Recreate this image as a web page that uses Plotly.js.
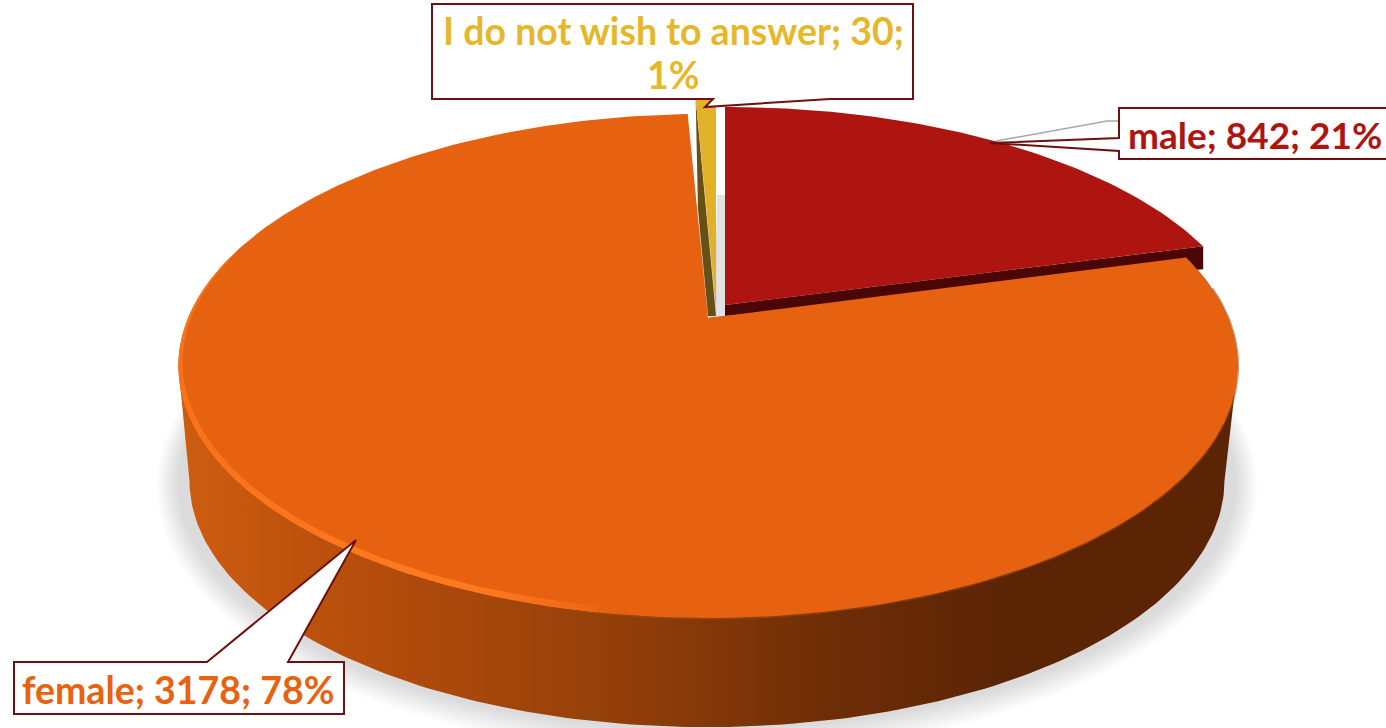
<!DOCTYPE html>
<html>
<head>
<meta charset="utf-8">
<script src="https://cdn.plot.ly/plotly-3.0.1.min.js"></script>
<style>html,body{margin:0;padding:0;background:#fff;overflow:hidden}#c{width:1386px;height:728px}</style>
</head>
<body>
<div id="c"></div>
<script>
// ---- data ----
const categories = ['male', 'female', 'I do not wish to answer'];
const counts = [842, 3178, 30];
const percents = ['21%', '78%', '1%'];

// ---- style ----
const topColors = ['#AE1410', '#E66210', '#E3B128'];
const wallColors = ['#4A0504', null, '#665016'];
const textColors = ['#AE1410', '#E8620F', '#E6B729'];
const edge = '#6E1010';

// ---- projection of the tilted disc ----
const tilt = 0.19, ampY = 243, ampX = 520;
function proj(deg, ax, ay, sx, sy) {
  const t = deg * Math.PI / 180, u = Math.sin(t), v = Math.cos(t), w = 1 + tilt * v;
  return [ax + sx * ampX * u / w, ay - sy * ampY * v / w];
}
const total = counts.reduce((a, b) => a + b, 0);
let acc = 0;
const spans = counts.map(c => { const s = [acc / total * 360, (acc + c) / total * 360]; acc += c; return s; });

function arc(a, b, ax, ay, sx, sy) {
  const n = Math.max(2, Math.ceil(Math.abs(b - a))), p = [];
  for (let i = 0; i <= n; i++) p.push(proj(a + (b - a) * i / n, ax, ay, sx, sy));
  return p;
}
function poly(pts, color, extra) {
  return Object.assign({
    type: 'scatter', mode: 'lines', x: pts.map(p => p[0]), y: pts.map(p => p[1]),
    fill: 'toself', fillcolor: color, line: {width: 0, color: color}, hoverinfo: 'skip', showlegend: false
  }, extra || {});
}
const traces = [];

// soft shadow under the disc
for (let d = 2; d <= 22; d += 2.5) {
  traces.push(poly(arc(0, 360, 707, 436, (518 + d) / 520, (246 + d) / 252), 'rgba(0,0,0,0.014)'));
}

// female apex and outer wall (tangent to both rims, hidden behind the top elsewhere)
const fA = [708, 318];
const wallBottom = arc(101, 259, 707, 434, 0.977, 0.977);
const wallLeft = arc(259, 262, fA[0], fA[1], 1, 1);
const wallRight = arc(spans[1][0] + 1, 101, fA[0], fA[1], 1, 1);
traces.push(poly(wallBottom.concat(wallLeft, [fA], wallRight), '#7A3207', {
  fillgradient: {
    type: 'horizontal', start: 190, stop: 1225,
    colorscale: [[0, '#CC5C10'], [0.15, '#B84E0C'], [0.4, '#95400A'], [0.62, '#6E2D07'], [0.8, '#5A2405'], [1, '#5A2405']]
  }
}));

// male: wall along the cut edge, then the top
const mA = [725, 305], mDepth = 11, mSy = 0.97;
const mEnd = proj(spans[0][1], mA[0], mA[1], 1, mSy);
traces.push(poly([mA, mEnd, [mEnd[0], mEnd[1] + 23], [mA[0], mA[1] + mDepth]], wallColors[0]));
traces.push(poly([mA].concat(arc(spans[0][0], spans[0][1], mA[0], mA[1], 1, mSy)), topColors[0]));

// unfilled gap shading
traces.push(poly([[717, 195], [725, 195], [725, 315], [717, 316]], '#E2E2E2'));

// answer-refused slice: wall then top
const yA = [716, 309], yDepth = 7;
const yRim = arc(spans[2][0], spans[2][1], yA[0], yA[1], 1, 1.03);
traces.push(poly([yRim[0], yA, [yA[0], yA[1] + yDepth], [yA[0] - 8, yA[1] + yDepth], [yA[0] - 18, yA[1] - 100]], wallColors[2]));
traces.push(poly([yA].concat(yRim), topColors[2]));

// female top with soft fringe on the dark side
const fringe = arc(spans[1][0] + 8, 195, fA[0], fA[1], 1, 1);
traces.push({
  type: 'scatter', mode: 'lines', x: fringe.map(p => p[0]), y: fringe.map(p => p[1]),
  line: {width: 3, color: 'rgba(160,75,15,0.55)'}, hoverinfo: 'skip', showlegend: false
});
traces.push(poly([fA].concat(arc(spans[1][0], spans[1][1], fA[0], fA[1], 1, 1)), topColors[1]));

// bright bevel along the near-left rim
const bevelOut = arc(190, 285, fA[0], fA[1], 1, 1);
const bevelIn = arc(285, 190, fA[0], fA[1] - 3, 0.992, 0.988);
traces.push(poly(bevelOut.concat(bevelIn), '#FF7A1E', {
  fillgradient: {
    type: 'horizontal', start: 177, stop: 630,
    colorscale: [[0, '#F9721A'], [0.65, '#FF7A20'], [1, '#E66210']]
  }
}));

// ---- callouts ----
const L = {type: 'path', layer: 'above', line: {color: edge, width: 2}, fillcolor: '#FFFFFF'};
const shapes = [
  Object.assign({}, L, {path: 'M432,4 L913,4 L913,99 L830,99 L705,107 L713,99 L432,99 Z'}),
  {type: 'path', layer: 'above', line: {color: '#A8A8A8', width: 1.5}, path: 'M996,141 L1107,121 L1119,121'},
  Object.assign({}, L, {path: 'M1119,108 L1392,108 L1392,159 L1119,159 L1119,151 L990,143 L1119,138 Z'}),
  Object.assign({}, L, {path: 'M14,662 L207,662 L356,540 L288,662 L344,662 L344,714 L14,714 Z'})
];

const label = i => [categories[i] + '; ' + counts[i] + ';', percents[i]];
const note = (text, x, y, size, color) => ({
  x: x, y: y, xref: 'x', yref: 'y', xanchor: 'center', yanchor: 'middle', showarrow: false, text: text,
  font: {family: 'Lato, sans-serif', size: size, color: color, weight: 700}
});
const annotations = [
  note(label(0).join(' '), 1255, 134, 37, textColors[0]),
  note(label(1).join(' '), 178, 689, 37.5, textColors[1]),
  note(label(2)[0], 673, 30, 37.5, textColors[2]),
  note(label(2)[1], 673, 74, 37.5, textColors[2])
];

Plotly.newPlot('c', traces, {
  width: 1386, height: 728, margin: {l: 0, r: 0, t: 0, b: 0},
  paper_bgcolor: '#fff', plot_bgcolor: '#fff', showlegend: false,
  xaxis: {range: [0, 1386], visible: false, fixedrange: true},
  yaxis: {range: [728, 0], visible: false, fixedrange: true},
  shapes: shapes, annotations: annotations
}, {displayModeBar: false, staticPlot: true});
</script>
</body>
</html>
